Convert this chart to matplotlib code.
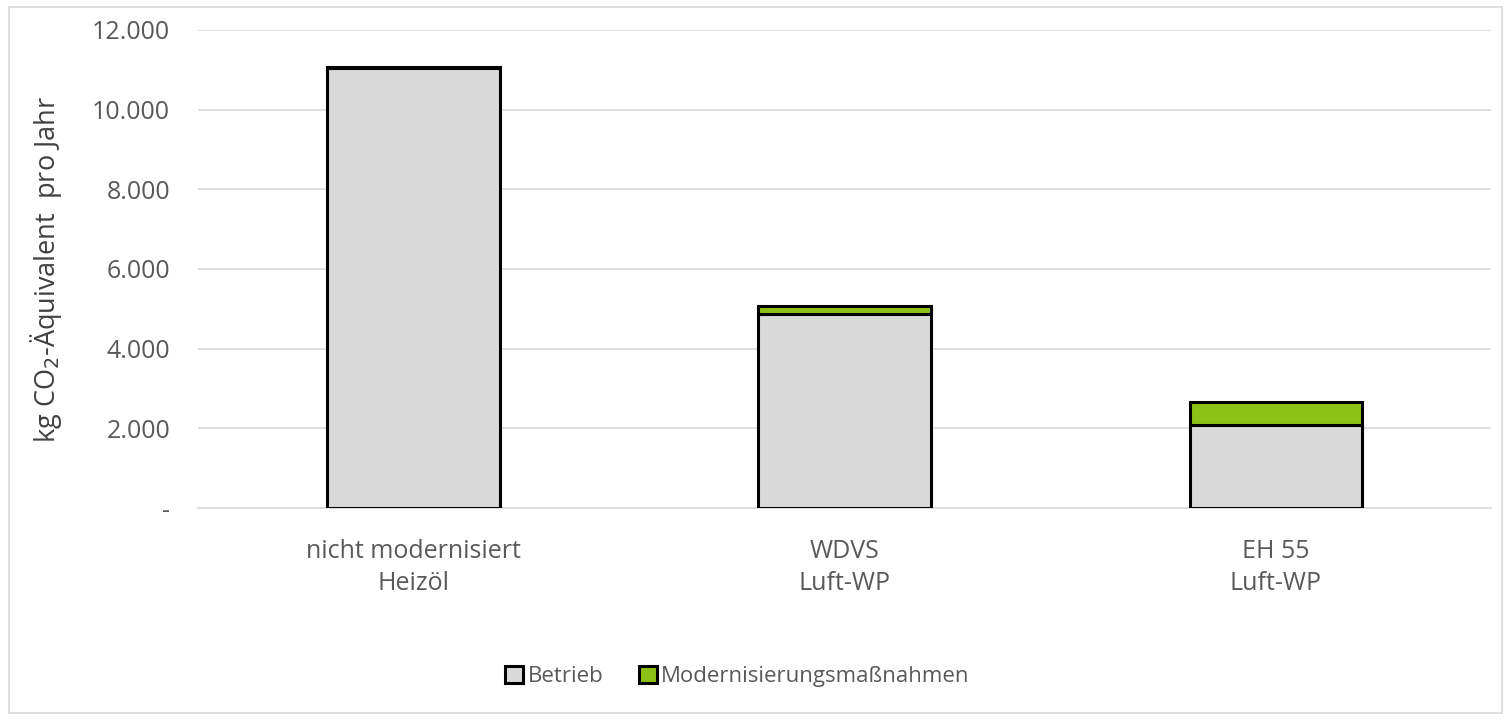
import numpy as np
import matplotlib.pyplot as plt
from matplotlib.patches import Rectangle
from matplotlib.ticker import FuncFormatter

plt.rcParams['font.family'] = ['Open Sans', 'DejaVu Sans']

categories = ['nicht modernisiert\nHeizöl', 'WDVS\nLuft-WP', 'EH 55\nLuft-WP']
betrieb = [11050, 4880, 2080]
modernisierung = [30, 190, 580]

GREY_BAR = '#d9d9d9'
GREEN = '#8cc217'
TEXT = '#595959'

fig = plt.figure(figsize=(15.11, 7.2), dpi=100, facecolor='white')
fig.patches.append(Rectangle((0.006, 0.01), 0.988, 0.98, transform=fig.transFigure,
                             fill=False, edgecolor='#d9d9d9', lw=1.2))

ax = fig.add_axes([0.131, 0.2944, 0.856, 0.664])
x = np.arange(len(categories))
ax.bar(x, betrieb, width=0.4, color=GREY_BAR, edgecolor='black', lw=2.2,
       label='Betrieb', zorder=3)
ax.bar(x, modernisierung, width=0.4, bottom=betrieb, color=GREEN,
       edgecolor='black', lw=2.2, label='Modernisierungsmaßnahmen', zorder=3)

ax.set_xlim(-0.5, 2.5)
ax.set_ylim(0, 12000)
ax.set_yticks(np.arange(0, 12001, 2000))
ax.yaxis.set_major_formatter(FuncFormatter(
    lambda v, p: '-' if v == 0 else f'{int(v):,}'.replace(',', '.')))
ax.set_xticks(x)
ax.set_xticklabels(categories, fontsize=18, color=TEXT, linespacing=1.4)
ax.tick_params(axis='y', length=0, labelsize=18, labelcolor=TEXT, pad=20)
ax.tick_params(axis='x', length=0, pad=22)
ax.grid(axis='y', color='#d9d9d9', lw=1.2, zorder=0)
for s in ['top', 'right', 'left']:
    ax.spines[s].set_visible(False)
ax.spines['bottom'].set_color('#d9d9d9')
ax.spines['bottom'].set_linewidth(1.2)

ax.set_ylabel('kg CO$_2$-Äquivalent  pro Jahr', fontsize=19.5, color='#404040', labelpad=20)

fig.legend(loc='center', bbox_to_anchor=(0.488, 0.06), ncol=2, frameon=False,
           fontsize=16, labelcolor=TEXT, handlelength=0.8, handleheight=0.8,
           handletextpad=0.2, columnspacing=1.6)

plt.savefig('out.png', dpi=100, facecolor='white')
